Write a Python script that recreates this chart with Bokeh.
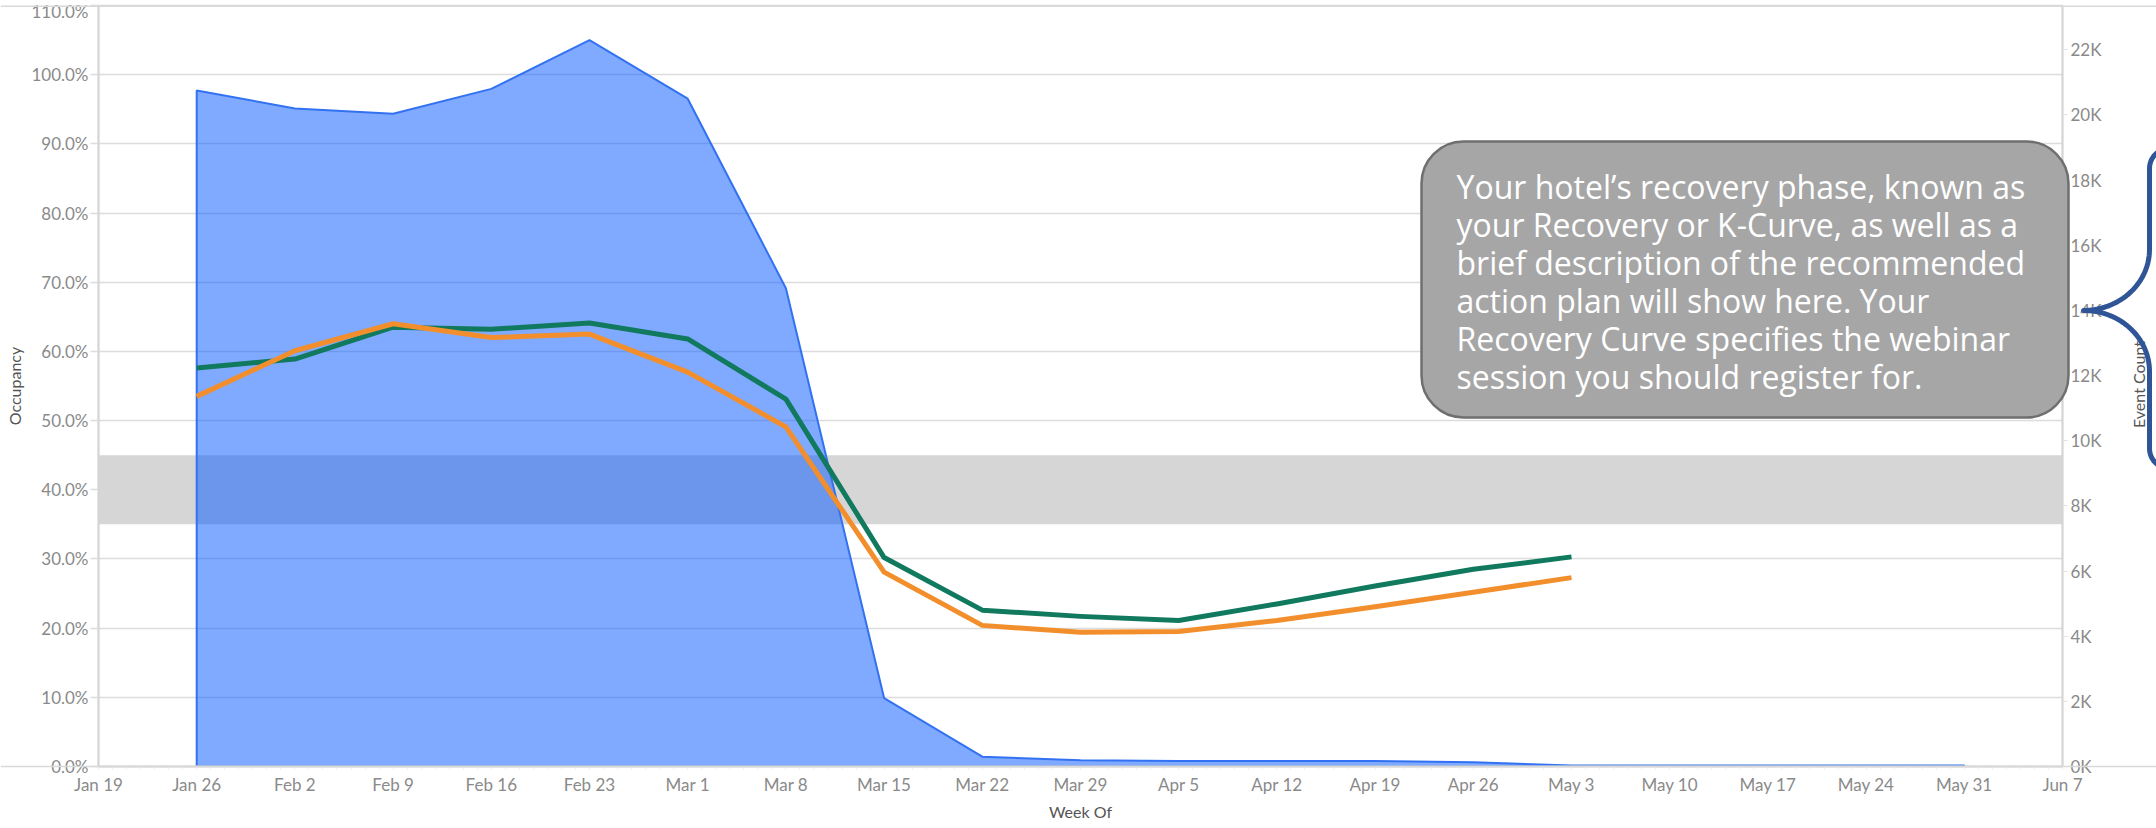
import math
import numpy as np
import pandas as pd
from bokeh.plotting import figure
from bokeh.models import (Range1d, LinearAxis, FixedTicker, BoxAnnotation, Label,
                          PrintfTickFormatter, GridBox, Column)
from bokeh.core.properties import value
from bokeh.embed import file_html
from bokeh.resources import INLINE

# ---------------- data ----------------
week_tick_labels = ["Jan 19", "Jan 26", "Feb 2", "Feb 9", "Feb 16", "Feb 23", "Mar 1", "Mar 8",
                    "Mar 15", "Mar 22", "Mar 29", "Apr 5", "Apr 12", "Apr 19", "Apr 26", "May 3",
                    "May 10", "May 17", "May 24", "May 31", "Jun 7"]

event_weeks = ["Jan 26", "Feb 2", "Feb 9", "Feb 16", "Feb 23", "Mar 1", "Mar 8", "Mar 15",
               "Mar 22", "Mar 29", "Apr 5", "Apr 12", "Apr 19", "Apr 26", "May 3", "May 10",
               "May 17", "May 24", "May 31"]
event_count = [20750, 20200, 20040, 20800, 22300, 20500, 14680, 2100,
               300, 190, 170, 170, 170, 130, 30, 30,
               30, 30, 30]

occ_weeks = ["Jan 26", "Feb 2", "Feb 9", "Feb 16", "Feb 23", "Mar 1", "Mar 8", "Mar 15",
             "Mar 22", "Mar 29", "Apr 5", "Apr 12", "Apr 19", "Apr 26", "May 3"]
occupancy_green = [57.6, 58.9, 63.5, 63.2, 64.1, 61.8, 53.1, 30.2,
                   22.6, 21.7, 21.1, 23.5, 26.1, 28.5, 30.3]
occupancy_orange = [53.5, 60.1, 64.0, 62.0, 62.5, 57.0, 49.1, 28.1,
                    20.4, 19.4, 19.5, 21.1, 23.1, 25.2, 27.3]

occ_ticks = [0, 10, 20, 30, 40, 50, 60, 70, 80, 90, 100, 110]
count_ticks = [0, 2000, 4000, 6000, 8000, 10000, 12000, 14000, 16000, 18000, 20000, 22000]
count_tick_labels = ["0K", "2K", "4K", "6K", "8K", "10K", "12K", "14K", "16K", "18K", "20K", "22K"]
count_max = 23360

band_low, band_high = 35, 45
bracket_value = 14000

box_lines = ["Your hotel\u2019s recovery phase, known as",
             "your Recovery or K-Curve, as well as a",
             "brief description of the recommended",
             "action plan will show here.  Your",
             "Recovery Curve specifies the webinar",
             "session you should register for."]

# ---------------- geometry ----------------
W, H = 2156, 828
BL, BR, BT, BB = 98, 94, 5, 62
FR_TOP = BT
FR_BOT = H - BB
FONT = "Lato"
TICK_COLOR = "#8a8a8a"
GRID = "#dcdcdc"

def to_dt(labels):
    return pd.to_datetime([f"{s} 2020" for s in labels], format="%b %d %Y")

tick_dt = to_dt(week_tick_labels)
tick_ms = [int(t.value // 10**6) for t in tick_dt]
ev_dt = to_dt(event_weeks)
occ_dt = to_dt(occ_weeks)

# ---------------- main chart ----------------
p = figure(x_axis_type="datetime", width=W, height=H,
           x_range=Range1d(tick_dt[0], tick_dt[-1]), y_range=Range1d(0, 110),
           min_border_left=BL, min_border_right=BR, min_border_top=BT, min_border_bottom=BB,
           output_backend="svg", toolbar_location=None)
p.background_fill_color = "white"
p.border_fill_color = "white"
p.outline_line_color = "#d9d9d9"
p.outline_line_width = 1.5
p.extra_y_ranges = {"count": Range1d(0, count_max)}

p.xgrid.grid_line_color = None
p.ygrid.ticker = FixedTicker(ticks=occ_ticks)
p.ygrid.grid_line_color = GRID
p.ygrid.grid_line_width = 1.5

p.add_layout(BoxAnnotation(bottom=band_low, top=band_high, fill_color="#d6d6d6", fill_alpha=1.0,
                           line_color=None, level="underlay"))

area_x = [ev_dt[0]] + list(ev_dt) + [ev_dt[-1]]
area_y = [0] + event_count + [0]
p.patch(area_x, area_y, y_range_name="count", fill_color="#0055ff", fill_alpha=0.5,
        line_color="#3272f2", line_width=2)

p.line(occ_dt, occupancy_green, line_color="#11795d", line_width=5, line_join="round")
p.line(occ_dt, occupancy_orange, line_color="#f28f2c", line_width=5, line_join="round")

xa = p.xaxis[0]
minor = [int(t.value // 10**6) for t in pd.date_range(tick_dt[0], tick_dt[-1], freq="D")]
xa.ticker = FixedTicker(ticks=tick_ms, minor_ticks=minor)
xa.major_label_overrides = {ms: lbl for ms, lbl in zip(tick_ms, week_tick_labels)}
xa.axis_label = "Week Of"
xa.axis_label_text_font = FONT
xa.axis_label_text_font_style = "normal"
xa.axis_label_text_font_size = "16px"
xa.axis_label_text_color = "#555555"
xa.axis_label_standoff = 4
xa.major_label_text_font = FONT
xa.major_label_text_font_size = "17px"
xa.major_label_text_color = TICK_COLOR
xa.major_label_standoff = 4
xa.axis_line_color = "#d4d4d4"
xa.axis_line_width = 2
xa.major_tick_line_color = "#e2e2e2"
xa.major_tick_in = 0
xa.major_tick_out = 3
xa.minor_tick_line_color = "#eeeeee"
xa.minor_tick_in = 0
xa.minor_tick_out = 3

ya = p.yaxis[0]
ya.ticker = FixedTicker(ticks=occ_ticks)
ya.formatter = PrintfTickFormatter(format="%.1f%%")
ya.axis_label = "Occupancy"
ya.axis_label_text_font = FONT
ya.axis_label_text_font_style = "normal"
ya.axis_label_text_font_size = "16px"
ya.axis_label_text_color = "#555555"
ya.axis_label_standoff = 4
ya.major_label_text_font = FONT
ya.major_label_text_font_size = "17px"
ya.major_label_text_color = TICK_COLOR
ya.major_label_standoff = 2
ya.axis_line_color = "#d4d4d4"
ya.axis_line_width = 2
ya.major_tick_line_color = GRID
ya.major_tick_line_width = 1.5
ya.major_tick_in = 0
ya.major_tick_out = 8
ya.minor_tick_line_color = None

ra = LinearAxis(y_range_name="count", ticker=FixedTicker(ticks=count_ticks))
ra.major_label_overrides = {t: l for t, l in zip(count_ticks, count_tick_labels)}
ra.major_label_text_font = FONT
ra.major_label_text_font_size = "17px"
ra.major_label_text_color = TICK_COLOR
ra.major_label_standoff = 3
ra.axis_line_color = "#d4d4d4"
ra.axis_line_width = 2
ra.major_tick_line_color = "#e2e2e2"
ra.major_tick_in = 0
ra.major_tick_out = 5
ra.minor_tick_line_color = None
p.add_layout(ra, "right")

# ---------------- overlay (page coordinates, drawn over the chart) ----------------
o = figure(width=W, height=H, x_range=Range1d(0, W), y_range=Range1d(H, 0),
           min_border=0, x_axis_location=None, y_axis_location=None,
           output_backend="svg", toolbar_location=None)
o.background_fill_alpha = 0
o.border_fill_alpha = 0
o.outline_line_color = None
o.grid.grid_line_color = None

# full-width pane borders
o.multi_line([[0, W], [0, W]], [[FR_TOP + 0.75, FR_TOP + 0.75], [FR_BOT, FR_BOT]],
             line_color="#d9d9d9", line_width=1.5)

# text box
o.add_layout(BoxAnnotation(left=1421, right=2068, top=141, bottom=417,
                           fill_color="#a6a6a6", fill_alpha=1.0,
                           line_color="#6f6f6f", line_alpha=1.0, line_width=2.5,
                           border_radius=42))
first_line_y, line_step = 186, 38
for i, txt in enumerate(box_lines):
    o.add_layout(Label(x=1456, y=first_line_y + i * line_step, text=txt, text_align="left",
                       text_baseline="middle", text_font="Open Sans", text_font_size="32px",
                       text_color="white"))

# right axis title
o.text(x=[2138], y=[384], text=["Event Count"], angle=math.pi / 2, text_align="center",
       text_baseline="middle", text_font=value(FONT), text_font_size="16px",
       text_color="#555555")

# curly bracket pointing at the bracket value on the right axis
tip_y = FR_BOT - bracket_value / count_max * (FR_BOT - FR_TOP)
tip_x, arm_x, rx, rv, curl = 2083, 2149, 66, 61, 20
top_end, bot_end = 168, 448
t = np.linspace(0, math.pi / 2, 30)
s = np.linspace(0, math.pi / 2, 15)
top_x = np.concatenate([arm_x + curl - curl * np.cos(s[::-1]), [arm_x],
                        tip_x + rx * np.sin(t[::-1])])
top_y = np.concatenate([top_end - curl * np.sin(s[::-1]), [tip_y - rv],
                        tip_y - rv + rv * np.cos(t[::-1])])
bot_x = np.concatenate([tip_x + rx * np.sin(t), [arm_x], arm_x + curl - curl * np.cos(s)])
bot_y = np.concatenate([tip_y + rv - rv * np.cos(t), [bot_end], bot_end + curl * np.sin(s)])
o.line(np.concatenate([top_x, bot_x]), np.concatenate([top_y, bot_y]),
       line_color="#2f5597", line_width=5, line_cap="round", line_join="round")

layout = GridBox(children=[(p, 0, 0), (Column(children=[o]), 0, 0)])
open("out.html", "w").write(file_html(layout, INLINE))
